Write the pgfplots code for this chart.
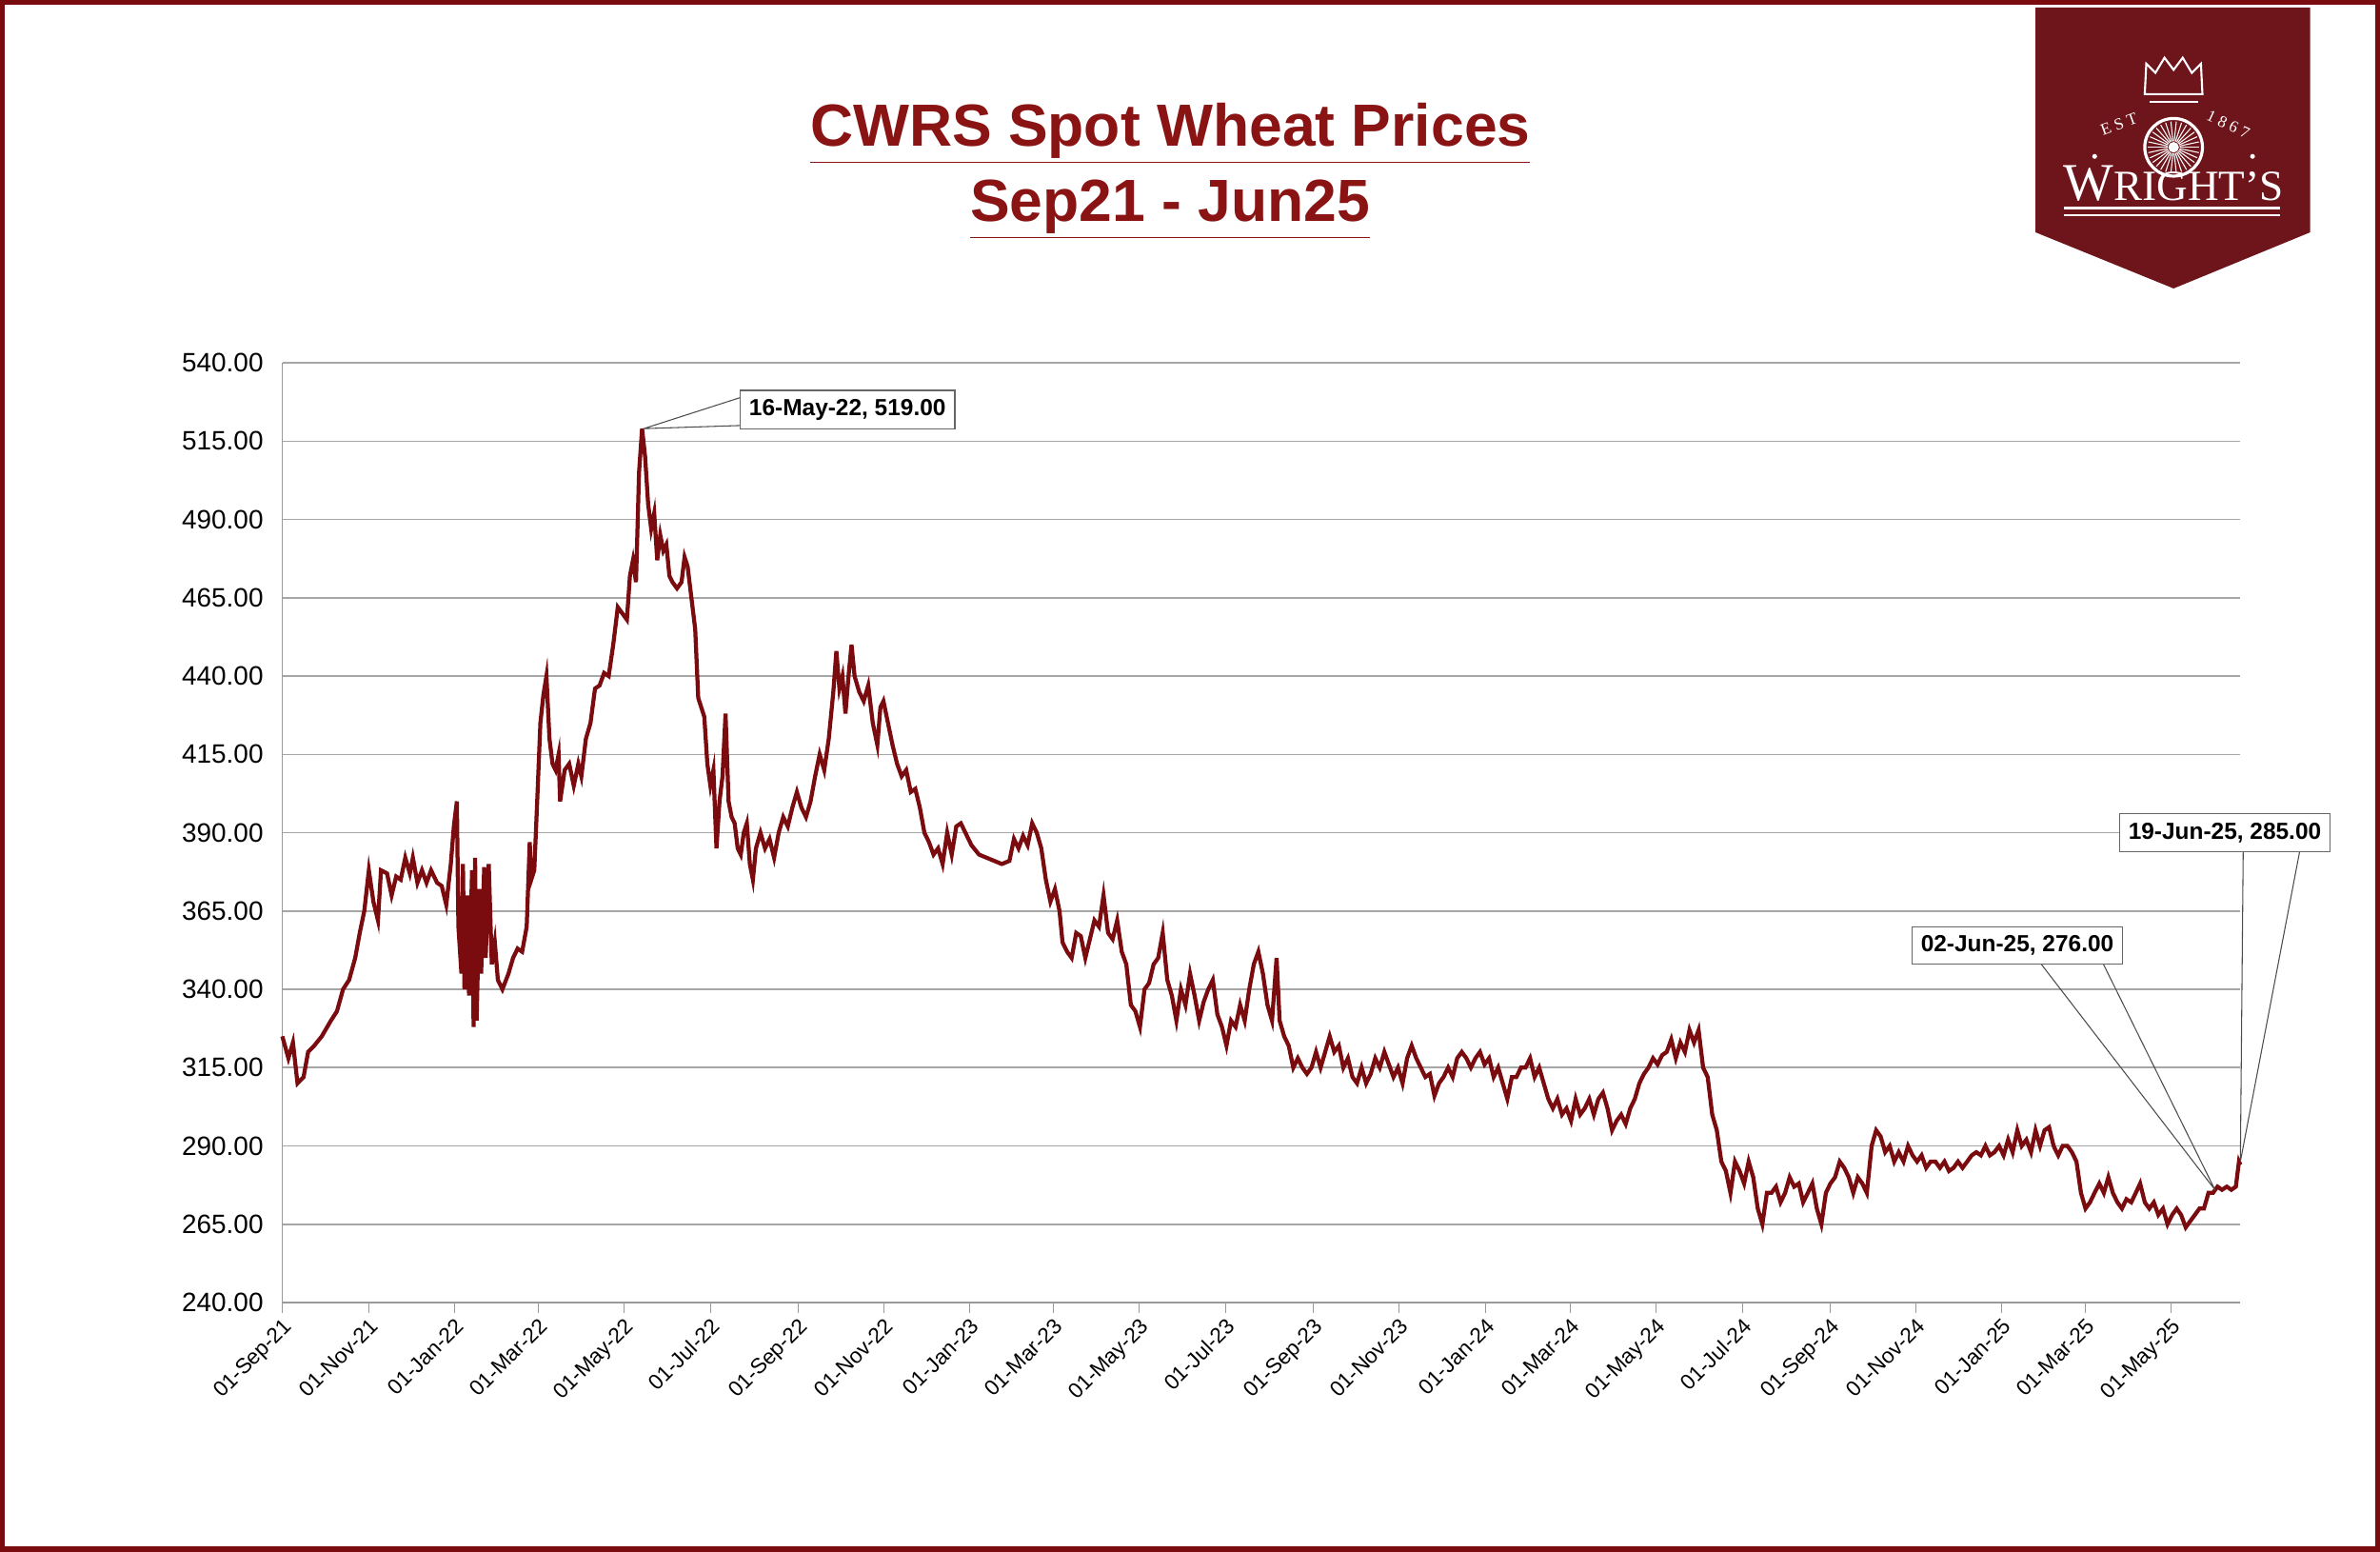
\documentclass[border=0pt]{standalone}
\usepackage{pgfplots}
\pgfplotsset{compat=1.18}
\usepackage{fontspec}
\setmainfont{Liberation Sans}
\newfontfamily\serifl{Liberation Serif}
\definecolor{wred}{HTML}{7A0C10}
\definecolor{logored}{HTML}{6D151B}
\definecolor{tred}{HTML}{8A1414}
\newcommand{\ul}[1]{\underline{#1}}
\begin{document}
\begin{tikzpicture}
\begin{scope}[x=0.6pt,y=-0.6pt]
\path[use as bounding box] (0,0) rectangle (1568,1022);
\draw[wred,line width=2.2pt] (1.5,1.5) rectangle (1566.5,1020.5);
% logo
\fill[logored] (1341,5)--(1522,5)--(1522,153)--(1432,190)--(1341,153)--cycle;
\draw[white,line width=1.2pt] (1432,97) circle (19);
\foreach \a in {0,12,...,348} \draw[white,line width=0.4pt] (1432,97)+(\a:4)--+(\a:17);
\fill[white] (1432,97) circle (3.5);
\draw[white,line width=0.8pt] (1413,62)--(1414,42)--(1420,48)--(1426,38)--(1432,46)--(1438,38)--(1444,48)--(1450,42)--(1451,62)--cycle;
\draw[white,line width=0.8pt] (1416,67)--(1448,67);
\node[white,font=\serifl\fontsize{6.5}{7}\selectfont,rotate=20] at (1396,82) {E S T};
\node[white,font=\serifl\fontsize{6.5}{7}\selectfont,rotate=-25] at (1468,82) {1 8 6 7};
\fill[white] (1380,103) circle (1.6) (1484,103) circle (1.6);
\node[white,font=\serifl\fontsize{21}{22}\selectfont] at (1432,121) {W\fontsize{17}{18}\selectfont RIGHT’S};
\draw[white,line width=0.8pt] (1360,137)--(1502,137) (1360,142)--(1502,142);
% title
\node[tred,font=\bfseries\fontsize{23.5}{26}\selectfont] at (771,88) {\ul{CWRS Spot Wheat Prices}};
\node[tred,font=\bfseries\fontsize{23.5}{26}\selectfont] at (771,138) {\ul{Sep21 - Jun25}};
\end{scope}
\begin{axis}[at={(111.6pt,-514.8pt)},anchor=south west,scale only axis,
 width=774pt,height=371.4pt,clip=false,
 xmin=0,xmax=1387,ymin=240,ymax=540,
 ytick={240,265,...,540},
 yticklabel={\pgfmathprintnumber[fixed,fixed zerofill,precision=2,assume math mode=true]{\tick}},
 yticklabel style={font=\fontsize{10.5}{12}\selectfont},
 ymajorgrids,grid style={gray!70,line width=0.6pt},
 axis x line*=bottom, axis y line*=left,
 axis line style={gray!80,line width=0.6pt},
 ytick style={draw=none},
 xtick={0,61,122,181,242,303,365,426,487,546,607,668,730,791,852,912,973,1034,1096,1157,1218,1277,1338},
 xticklabels={01-Sep-21,01-Nov-21,01-Jan-22,01-Mar-22,01-May-22,01-Jul-22,01-Sep-22,01-Nov-22,01-Jan-23,01-Mar-23,01-May-23,01-Jul-23,01-Sep-23,01-Nov-23,01-Jan-24,01-Mar-24,01-May-24,01-Jul-24,01-Sep-24,01-Nov-24,01-Jan-25,01-Mar-25,01-May-25},
 xticklabel style={rotate=45,anchor=north east,font=\fontsize{8.5}{10}\selectfont,inner sep=1pt},
 xtick style={gray!80},major tick length=4pt, tick align=outside,
 ]
\addplot[wred,line width=1.6pt] table[x expr={(\thisrowno{0}-186)/0.93},y index=1] {
186 325
190 318
193 323
196 310
200 312
203 320
207 322
212 325
218 330
222 333
226 340
230 343
234 350
237 358
240 365
243 378
246 368
249 362
251 378
255 377
258 370
261 376
264 375
267 382
270 377
272 382
275 374
278 378
281 374
284 378
288 374
291 373
294 367
297 380
299 392
301 400
302 360
304 345
305 380
306 340
308 370
309 338
311 378
312 328
313 382
314 330
316 372
317 345
319 379
320 350
322 380
324 348
326 355
328 343
331 340
335 345
338 350
341 353
344 352
347 360
349 387
350 375
352 378
354 401
356 425
358 434
360 440
362 420
364 412
366 410
368 415
369 400
372 410
375 412
378 405
381 412
383 408
386 420
389 425
392 436
395 437
398 441
401 440
404 450
407 462
410 460
413 458
415 472
417 477
419 470
421 505
423 519
425 510
427 495
429 487
431 492
433 477
435 485
437 480
439 482
441 472
443 470
446 468
449 470
451 478
453 475
456 463
458 455
460 433
462 430
464 427
466 412
468 405
470 410
472 385
474 400
476 408
478 428
480 400
482 395
484 393
486 385
488 383
490 390
492 393
494 380
496 375
498 385
501 390
504 385
507 388
510 382
513 390
516 395
519 392
522 398
525 403
528 398
531 395
534 400
537 408
540 415
543 410
546 420
549 435
551 448
553 436
555 440
557 428
559 440
561 450
563 440
566 435
569 432
572 437
575 425
578 418
580 430
582 432
585 425
588 418
591 412
594 408
597 410
600 403
603 404
606 398
609 390
612 387
615 383
618 385
621 380
624 390
627 383
630 392
633 393
636 390
640 386
645 383
650 382
655 381
660 380
665 381
668 388
671 385
674 389
677 386
680 393
683 390
686 385
689 375
692 368
695 372
698 365
700 355
703 352
706 350
709 358
712 357
715 350
718 356
721 362
724 360
727 370
730 358
733 356
736 362
739 352
742 348
745 335
748 333
751 328
754 340
757 342
760 348
763 350
766 358
769 343
772 338
775 330
778 340
781 335
784 345
787 338
790 330
793 336
796 340
799 343
802 332
805 328
808 322
811 330
814 328
817 335
820 330
823 340
826 348
829 352
832 345
835 335
838 330
841 350
843 330
846 325
849 322
852 315
855 318
858 315
861 313
864 315
867 320
870 315
873 320
876 325
879 320
882 322
885 315
888 318
891 312
894 310
897 315
900 310
903 313
906 318
909 315
912 320
915 316
918 312
921 315
924 310
927 318
930 322
933 318
936 315
939 312
942 313
945 306
948 310
951 312
954 315
957 312
960 318
963 320
966 318
969 315
972 318
975 320
978 316
981 318
984 312
987 315
990 310
993 305
996 312
999 312
1002 315
1005 315
1008 318
1011 312
1014 315
1017 310
1020 305
1023 302
1026 305
1029 300
1032 302
1035 298
1038 305
1041 300
1044 302
1047 305
1050 300
1053 305
1056 307
1059 302
1062 295
1065 298
1068 300
1071 297
1074 302
1077 305
1080 310
1083 313
1086 315
1089 318
1092 316
1095 319
1098 320
1101 324
1104 318
1107 323
1110 320
1113 327
1116 323
1119 327
1122 315
1125 312
1128 300
1131 295
1134 285
1137 282
1140 275
1143 285
1146 282
1149 278
1152 285
1155 280
1158 270
1161 265
1164 275
1167 275
1170 277
1173 272
1176 275
1179 280
1182 277
1185 278
1188 272
1191 275
1194 278
1197 270
1200 265
1203 275
1206 278
1209 280
1212 285
1215 283
1218 280
1221 275
1224 280
1227 278
1230 275
1233 290
1236 295
1239 293
1242 288
1245 290
1248 285
1251 288
1254 285
1257 290
1260 287
1263 285
1266 287
1269 283
1272 285
1275 285
1278 283
1281 285
1284 282
1287 283
1290 285
1293 283
1296 285
1299 287
1302 288
1305 287
1308 290
1311 287
1314 288
1317 290
1320 287
1323 292
1326 288
1329 295
1332 290
1335 292
1338 288
1341 295
1344 290
1347 295
1350 296
1353 290
1356 287
1359 290
1362 290
1365 288
1368 285
1371 275
1374 270
1377 272
1380 275
1383 278
1386 275
1389 280
1392 275
1395 272
1398 270
1401 273
1404 272
1407 275
1410 278
1413 272
1416 270
1419 272
1422 268
1425 270
1428 265
1431 268
1434 270
1437 268
1440 264
1443 266
1446 268
1449 270
1452 270
1455 275
1458 275
1461 277
1464 276
1467 277
1470 276
1473 277
1475 285
1476 284
};
% callouts
\tikzset{cbox/.style={draw=gray!80!black,fill=white,font=\bfseries\fontsize{9.2}{10}\selectfont,inner sep=3.5pt,line width=0.5pt}}
\draw[gray!60!black,line width=0.4pt] (axis cs:256,519) -- (axis cs:325,529) (axis cs:256,519)--(axis cs:325,520);
\node[cbox,anchor=west] at (axis cs:324,525) {16-May-22, 519.00};
\draw[gray!60!black,line width=0.4pt] (axis cs:1369,276) -- (axis cs:1246,348) (axis cs:1369,276)--(axis cs:1290,348);
\node[cbox] at (axis cs:1229,354) {02-Jun-25, 276.00};
\draw[gray!60!black,line width=0.4pt] (axis cs:1387,285) -- (axis cs:1389,384) (axis cs:1387,285)--(axis cs:1429,384);
\node[cbox] at (axis cs:1376,390) {19-Jun-25, 285.00};
\end{axis}
\end{tikzpicture}
\end{document}
